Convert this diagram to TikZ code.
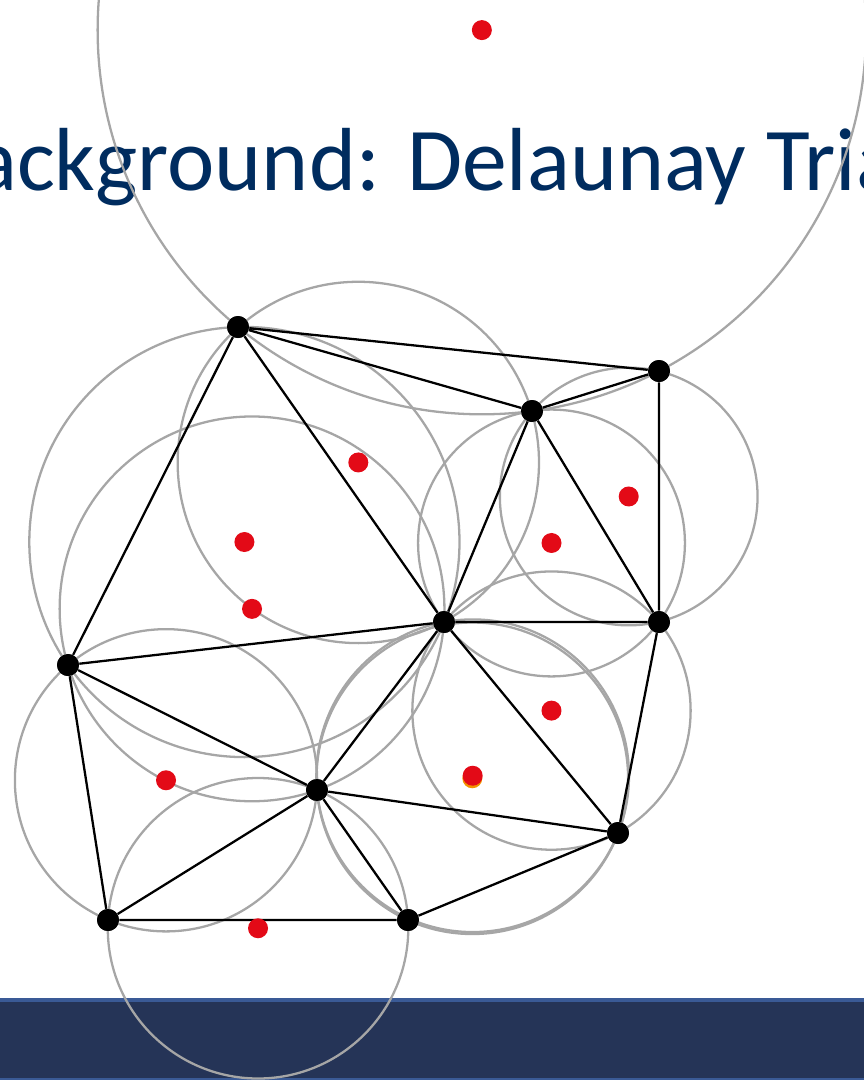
\documentclass[tikz,border=0pt]{standalone}
\usepackage{fontspec}
\setmainfont{Carlito}
\usetikzlibrary{calc}
\definecolor{titleblue}{HTML}{002C5F}
\definecolor{barblue}{HTML}{253457}
\definecolor{barline}{HTML}{3A5A96}
\definecolor{circgray}{HTML}{A6A6A6}
\definecolor{ccred}{HTML}{E30A17}
\definecolor{ccorange}{HTML}{F39200}

% circumcentre #1 of the triangle with corners #2, #3, #4
\newcommand{\circumpt}[4]{%
  \coordinate (#1-ma) at ($(#2)!.5!(#3)$);
  \coordinate (#1-pa) at ($(#1-ma)!1!90:(#3)$);
  \coordinate (#1-mb) at ($(#3)!.5!(#4)$);
  \coordinate (#1-pb) at ($(#1-mb)!1!90:(#4)$);
  \coordinate (#1) at (intersection of #1-ma--#1-pa and #1-mb--#1-pb);
}
% circumcircle about centre #1 through corner #2
\newcommand{\circumcirc}[2]{%
  \draw[circ] let \p1 = ($(#2)-(#1)$) in (#1) circle [radius={veclen(\x1,\y1)}];
}

\tikzset{
  vtx/.style={circle, fill=black, inner sep=0pt, minimum size=0.44cm},
  edge/.style={black, line width=1.3pt},
  circ/.style={circgray, line width=1.3pt},
  ccdot/.style={fill=ccred},
}

\begin{document}
\begin{tikzpicture}[x=0.02cm, y=-0.02cm]
\useasboundingbox (0,0) rectangle (864,1080);
\clip (0,0) rectangle (864,1080);

% footer band
\fill[barblue] (0,999) rectangle (864,1080);
\fill[barline] (0,998) rectangle (864,1002);
\fill[barline] (0,1078) rectangle (864,1080);

% heading
\node[anchor=base west, inner sep=0pt, text=titleblue, font=\fontsize{51}{60}\selectfont]
  (title) at (-75,190) {Background: Delaunay Triangulation};

% sites
\node[vtx] (A) at (238,327) {};
\node[vtx] (B) at (659,371) {};
\node[vtx] (C) at (532,411) {};
\node[vtx] (D) at (444,622) {};
\node[vtx] (E) at (659,622) {};
\node[vtx] (F) at (68,665) {};
\node[vtx] (G) at (317,790) {};
\node[vtx] (H) at (618,833) {};
\node[vtx] (I) at (108,920) {};
\node[vtx] (J) at (408,920) {};

% circumcentres of the triangles
\circumpt{t1}{A}{B}{C}
\circumpt{t2}{A}{C}{D}
\circumpt{t3}{A}{F}{D}
\circumpt{t4}{C}{B}{E}
\circumpt{t5}{C}{D}{E}
\circumpt{t6}{D}{E}{H}
\circumpt{t7}{F}{D}{G}
\circumpt{t8}{F}{G}{I}
\circumpt{t9}{I}{G}{J}
\circumpt{t10}{G}{D}{H}
\circumpt{t11}{G}{H}{J}

% empty circumcircles
\foreach \t/\v in {t1/A,t2/A,t3/A,t4/C,t5/C,t6/D,t7/F,t8/F,t9/I,t10/G,t11/G}{
  \circumcirc{\t}{\v}
}

% triangulation edges
\draw[edge] (A) -- (B) (A) -- (C) (C) -- (B) (B) -- (E) (C) -- (E)
  (C) -- (D) (A) -- (D) (A) -- (F) (F) -- (D) (D) -- (E)
  (F) -- (G) (F) -- (I) (I) -- (G) (I) -- (J) (G) -- (J)
  (G) -- (D) (D) -- (H) (E) -- (H) (G) -- (H) (H) -- (J);

% redraw sites on top of the edges
\foreach \v in {A,B,C,D,E,F,G,H,I,J}{
  \fill (\v) circle [radius=0.22cm];
}

% circumcentre markers
\fill[ccorange] (t11) circle [radius=0.2cm];
\foreach \t in {t1,t2,t3,t4,t5,t6,t7,t8,t9,t10}{
  \fill[ccdot] (\t) circle [radius=0.2cm];
}
\end{tikzpicture}
\end{document}
